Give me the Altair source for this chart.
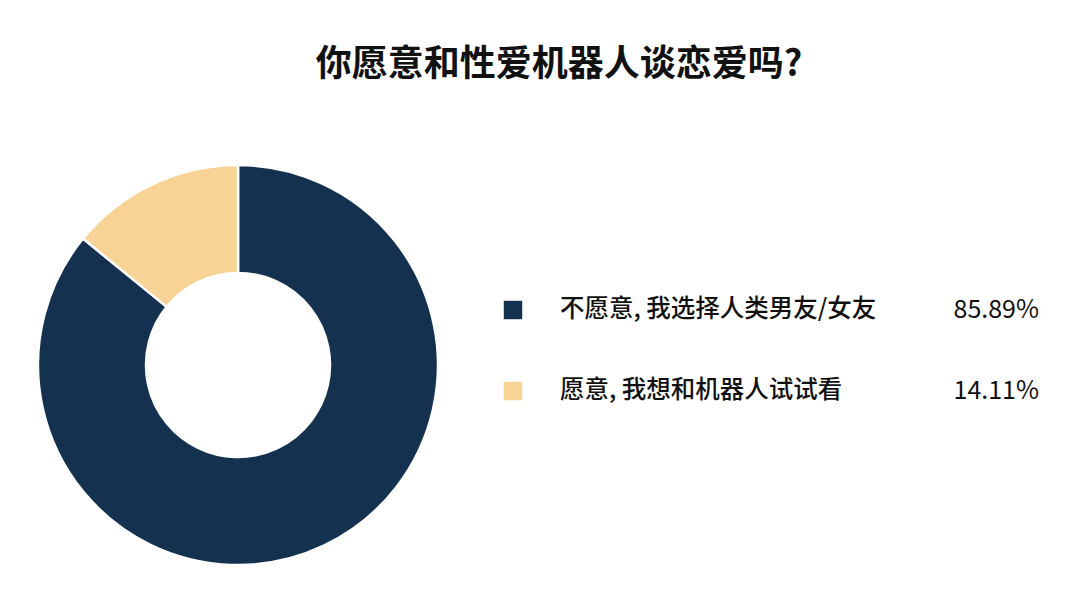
import altair as alt
import pandas as pd

categories = ["不愿意，我选择人类男友/女友", "愿意，我想和机器人试试看"]
legend_labels = ["不愿意,\u00a0我选择人类男友/女友", "愿意,\u00a0我想和机器人试试看"]
values = [85.89, 14.11]
pct_labels = ["85.89%", "14.11%"]
colors = ["#14314f", "#f7d396"]
title = "你愿意和性爱机器人谈恋爱吗?"

df = pd.DataFrame({
    "category": categories,
    "label": legend_labels,
    "value": values,
    "pct": pct_labels,
    "order": [0, 1],
})

FONT = "Noto Sans CJK SC"
color_scale = alt.Scale(domain=categories, range=colors)
row_scale = alt.Scale(domain=categories, range=[302, 383], padding=0)

base = alt.Chart(df)

donut = base.mark_arc(stroke="white", strokeWidth=2.5).encode(
    theta=alt.Theta("value:Q", stack=True),
    order=alt.Order("order:Q", sort="ascending"),
    color=alt.Color("category:N", scale=color_scale, legend=None),
    x=alt.value(230),
    y=alt.value(357),
    radius=alt.value(200),
    radius2=alt.value(92),
)

squares = base.mark_square(size=340, opacity=1).encode(
    x=alt.value(505),
    y=alt.Y("category:N", scale=row_scale, axis=None),
    color=alt.Color("category:N", scale=color_scale, legend=None),
)

labels = base.mark_text(align="left", baseline="middle", font=FONT, fontSize=24.5, fontWeight=500, color="#111111").encode(
    x=alt.value(552),
    y=alt.Y("category:N", scale=row_scale, axis=None),
    text="label:N",
)

pcts = base.mark_text(align="right", baseline="middle", font=FONT, fontSize=25, color="#111111").encode(
    x=alt.value(1031),
    y=alt.Y("category:N", scale=row_scale, axis=None),
    text="pct:N",
)

title_layer = alt.Chart(pd.DataFrame({"t": [title]})).mark_text(
    align="center", baseline="middle", font=FONT, fontSize=36, fontWeight=600, color="#111111"
).encode(
    x=alt.value(551),
    y=alt.value(57),
    text="t:N",
)

chart = alt.layer(donut, squares, labels, pcts, title_layer).properties(
    width=1064,
    height=590,
    padding=0,
    autosize=alt.AutoSizeParams(type="none"),
).configure(background="white").configure_view(stroke=None)

chart.save("out.html", embed_options={"renderer": "svg", "actions": False})
